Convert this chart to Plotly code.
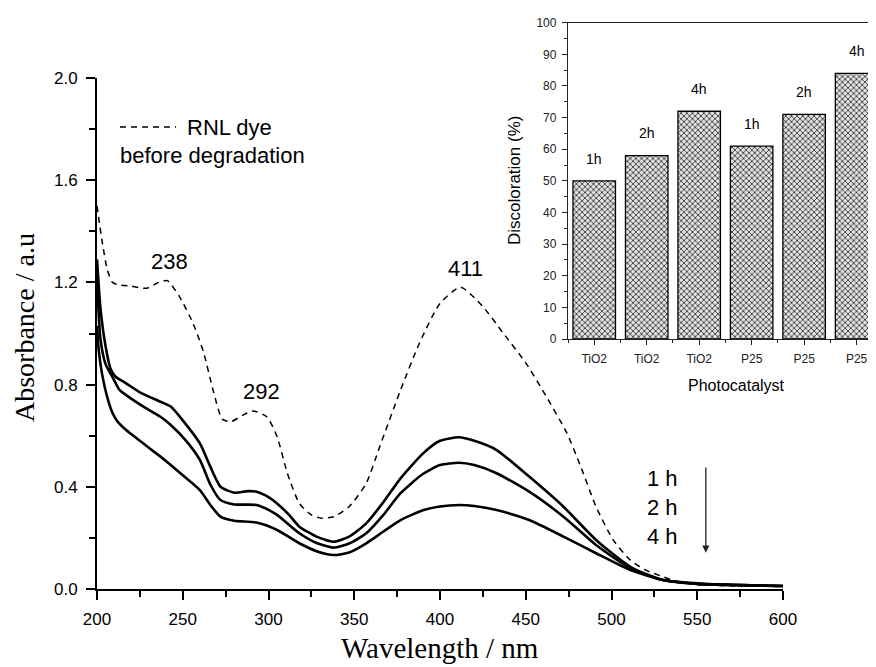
import plotly.graph_objects as go

# ---------------- data: main UV-Vis spectra ----------------
wl_dye = [200, 203, 206, 209, 213, 220, 229, 236, 241, 248, 256, 262, 268, 273, 278, 285, 291, 299,
          305, 311, 318, 325, 331, 338, 347, 357, 365, 377, 388, 400, 412, 425, 437, 450, 462, 474,
          482, 491, 501, 511, 520, 530, 538, 550, 570, 600]
abs_dye = [1.50, 1.36, 1.25, 1.20, 1.19, 1.185, 1.177, 1.20, 1.207, 1.145, 1.04, 0.93, 0.77, 0.665,
           0.655, 0.68, 0.697, 0.674, 0.596, 0.453, 0.335, 0.29, 0.277, 0.283, 0.322, 0.414, 0.56,
           0.779, 0.962, 1.118, 1.181, 1.105, 1.00, 0.885, 0.753, 0.61, 0.48, 0.322, 0.192, 0.113,
           0.074, 0.048, 0.03, 0.018, 0.012, 0.01]

wl_1h = [200, 202, 205, 208, 211, 217, 225, 237, 243, 250, 260, 266, 272, 280, 288, 293, 300, 305,
         312, 318, 328, 338, 347, 357, 367, 377, 390, 400, 411, 420, 433, 452, 472, 491, 511, 530,
         550, 575, 600]
abs_1h = [1.29, 1.10, 0.95, 0.86, 0.83, 0.805, 0.77, 0.733, 0.714, 0.66, 0.57, 0.48, 0.40, 0.377,
          0.383, 0.381, 0.36, 0.335, 0.29, 0.244, 0.205, 0.185, 0.205, 0.257, 0.34, 0.433, 0.53,
          0.58, 0.594, 0.58, 0.544, 0.44, 0.322, 0.192, 0.087, 0.035, 0.022, 0.015, 0.012]

wl_2h = [200, 202, 205, 209, 213, 217, 228, 237, 243, 252, 260, 266, 272, 280, 293, 300, 305, 318,
         328, 338, 347, 357, 367, 377, 390, 400, 411, 420, 433, 452, 472, 491, 511, 530, 550, 575, 600]
abs_2h = [1.22, 0.98, 0.88, 0.83, 0.78, 0.759, 0.71, 0.674, 0.642, 0.58, 0.505, 0.41, 0.348, 0.331,
          0.329, 0.31, 0.29, 0.218, 0.18, 0.162, 0.178, 0.218, 0.29, 0.375, 0.45, 0.485, 0.494,
          0.485, 0.453, 0.381, 0.283, 0.172, 0.081, 0.035, 0.02, 0.015, 0.012]

wl_4h = [200, 201, 203, 206, 209, 212, 217, 225, 237, 243, 250, 260, 266, 272, 280, 293, 305, 318,
         328, 338, 347, 357, 367, 377, 390, 400, 411, 420, 433, 452, 472, 491, 511, 530, 550, 575, 600]
abs_4h = [1.03, 0.935, 0.84, 0.75, 0.69, 0.655, 0.622, 0.58, 0.518, 0.485, 0.445, 0.387, 0.33, 0.283,
          0.267, 0.26, 0.231, 0.179, 0.148, 0.133, 0.143, 0.179, 0.225, 0.27, 0.308, 0.323, 0.329,
          0.325, 0.309, 0.27, 0.205, 0.14, 0.074, 0.035, 0.02, 0.015, 0.012]

peak_wl = [238, 292, 411]
peak_labels = ["238", "292", "411"]
peak_label_y = [1.28, 0.772, 1.255]

time_labels = ["1 h", "2 h", "4 h"]

# ---------------- data: inset bar chart ----------------
bar_catalyst = ["TiO2", "TiO2", "TiO2", "P25", "P25", "P25"]
bar_time = ["1h", "2h", "4h", "1h", "2h", "4h"]
bar_values = [50, 58, 72, 61, 71, 84]

# the page body has an 8 px margin; the figure fills the rest of the 876x667 window
OX, OY = 8, 8
W, H = 876 - OX, 667 - OY
SANS = "Liberation Sans, Arial, sans-serif"
SERIF = "Liberation Serif, Times New Roman, serif"


def px(x):
    return (x - OX) / W


def py(y):
    return 1 - (y - OY) / H


fig = go.Figure()

line_solid = dict(color="black", width=2.6, shape="spline", smoothing=0.6)
for wl, ab in [(wl_1h, abs_1h), (wl_2h, abs_2h), (wl_4h, abs_4h)]:
    fig.add_trace(go.Scatter(x=wl, y=ab, mode="lines", line=line_solid,
                             xaxis="x", yaxis="y", hoverinfo="skip"))
fig.add_trace(go.Scatter(x=wl_dye, y=abs_dye, mode="lines",
                         line=dict(color="black", width=1.5, dash="6px,5px", shape="spline", smoothing=0.6),
                         xaxis="x", yaxis="y", hoverinfo="skip"))

bar_x = list(range(len(bar_values)))
fig.add_trace(go.Bar(
    x=bar_x, y=bar_values, width=0.81, xaxis="x2", yaxis="y2",
    marker=dict(color="#dcdcdc",
                line=dict(color="black", width=1.3),
                pattern=dict(shape="x", size=4, solidity=0.4, fgcolor="#3a3a3a", bgcolor="#e2e2e2")),
    hoverinfo="skip"))


def ann(x, y, text, size, family=SANS, xref="paper", yref="paper", xanchor="center", angle=0):
    return dict(x=x, y=y, xref=xref, yref=yref, text=text, showarrow=False,
                xanchor=xanchor, yanchor="middle", textangle=angle,
                font=dict(family=family, size=size, color="black"))


annotations = []
# bar labels
for xi, v, t in zip(bar_x, bar_values, bar_time):
    annotations.append(ann(xi, v + 7, t, 14, xref="x2", yref="y2"))
# peak labels
for wl, t, yv in zip(peak_wl, peak_labels, peak_label_y):
    annotations.append(ann(wl + 4, yv, t, 22, xref="x", yref="y"))
# time labels
for i, t in enumerate(time_labels):
    annotations.append(ann(px(662), py(478 + 29 * i), t, 22))
# arrow
annotations.append(dict(x=555, y=0.142, ax=555, ay=0.481, xref="x", yref="y", axref="x", ayref="y",
                        text="", showarrow=True, arrowhead=2, arrowsize=1.1, arrowwidth=1.3,
                        arrowcolor="#222"))
# legend text
annotations.append(ann(px(185), py(127), "RNL dye", 22, xanchor="left"))
annotations.append(ann(px(118), py(156), "before degradation", 22, xanchor="left"))
# axis titles
annotations.append(ann(px(440), py(648), "Wavelength / nm", 29, family=SERIF))
annotations.append(ann(px(24), py(328), "Absorbance / a.u", 28, family=SERIF, angle=-90))
annotations.append(ann(px(515), py(181), "Discoloration (%)", 17, angle=-90))
annotations.append(ann(px(736), py(385), "Photocatalyst", 16))

shapes = [dict(type="line", xref="paper", yref="paper", x0=px(120), x1=px(176), y0=py(127), y1=py(127),
               line=dict(color="black", width=1.5, dash="6px,5px"))]

fig.update_layout(
    template="none",
    width=W, height=H, autosize=False,
    margin=dict(l=0, r=0, t=0, b=0, pad=0, autoexpand=False),
    paper_bgcolor="white", plot_bgcolor="white",
    showlegend=False,
    annotations=annotations,
    shapes=shapes,
    xaxis=dict(domain=[px(97), px(783)], range=[200, 600], dtick=50, tick0=200, automargin=False,
               showline=True, linecolor="black", linewidth=2, ticks="outside", ticklen=9,
               tickwidth=1.8, tickcolor="black", showgrid=False, zeroline=False,
               ticklabelstandoff=5,
               tickfont=dict(family=SANS, size=17, color="black"),
               minor=dict(ticks="outside", ticklen=6, tickwidth=1.5, tickcolor="black", dtick=25,
                          showgrid=False),
               anchor="y"),
    yaxis=dict(domain=[py(589), py(78)], range=[0, 2], dtick=0.4, tick0=0, tickformat=".1f",
               automargin=False,
               showline=True, linecolor="black", linewidth=2, ticks="outside", ticklen=9,
               tickwidth=1.8, tickcolor="black", showgrid=False, zeroline=False,
               ticklabelstandoff=5,
               tickfont=dict(family=SANS, size=17, color="black"),
               minor=dict(ticks="outside", ticklen=6, tickwidth=1.5, tickcolor="black", dtick=0.2,
                          showgrid=False),
               anchor="x"),
    xaxis2=dict(domain=[px(568), 1.0], range=[-0.5, 5.37], tickmode="array", tickvals=bar_x,
                ticktext=bar_catalyst, showline=True, mirror=True, linecolor="#222", linewidth=1.3,
                automargin=False,
                ticks="outside", ticklen=5, tickwidth=1.2, tickcolor="#222", showgrid=False,
                zeroline=False, ticklabelstandoff=3,
                tickfont=dict(family=SANS, size=12, color="#222"),
                minor=dict(ticks="outside", ticklen=3, tickwidth=1, tickcolor="#222",
                           tickmode="array", tickvals=[-0.5, 0.5, 1.5, 2.5, 3.5, 4.5], showgrid=False),
                anchor="y2"),
    yaxis2=dict(domain=[py(339), py(22.7)], range=[0, 100], dtick=10, tick0=0,
                automargin=False,
                showline=True, linecolor="#222", linewidth=1.3, ticks="outside", ticklen=5,
                tickwidth=1.2, tickcolor="#222", showgrid=False, zeroline=False,
                ticklabelstandoff=3,
                tickfont=dict(family=SANS, size=12, color="#222"),
                minor=dict(ticks="outside", ticklen=3, tickwidth=1, tickcolor="#222", dtick=5,
                           showgrid=False),
                anchor="x2"),
)

fig.write_html("out.html")
